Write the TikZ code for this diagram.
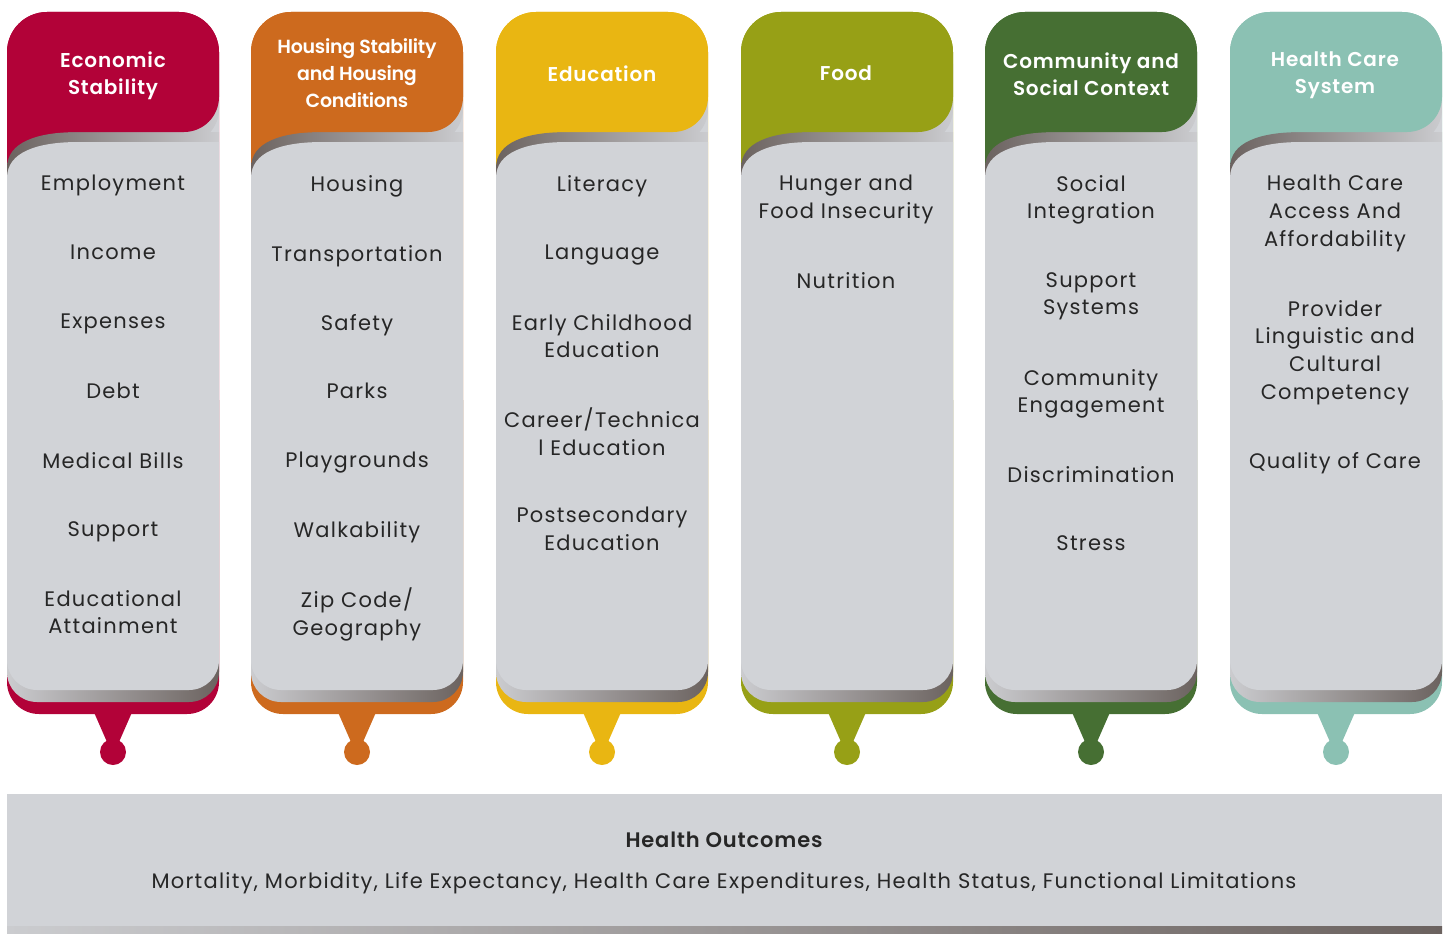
\documentclass[tikz,border=0pt]{standalone}
\usepackage{fontspec}
\setmainfont{Poppins}[LetterSpace=6]
\newfontfamily\headfont{Poppins SemiBold}[LetterSpace=4]

\definecolor{econ}{HTML}{B20238}
\definecolor{house}{HTML}{CD6A1E}
\definecolor{educ}{HTML}{E9B612}
\definecolor{food}{HTML}{97A016}
\definecolor{comm}{HTML}{466F33}
\definecolor{care}{HTML}{8BC1B3}
\definecolor{panel}{HTML}{D1D3D7}
\definecolor{shade}{HTML}{6B625F}
\definecolor{shadelight}{HTML}{CBCCCF}
\definecolor{txt}{HTML}{262626}

\tikzset{
  head/.style={anchor=north, align=center, text=white, inner sep=0pt,
    font=\fontsize{20}{27}\selectfont\headfont},
  item/.style={anchor=north, align=center, text=txt, inner sep=0pt,
    font=\fontsize{21}{27.7}\selectfont},
}

% one column: #1 left edge, #2 colour
\newcommand{\sdohcolumn}[2]{%
  \begin{scope}[shift={(#1,0)}]
    % coloured plate, tab and dot
    \fill[#2] (0,52) arc[start angle=180, end angle=270, radius=40] -- (172,12)
      arc[start angle=270, end angle=360, radius=40] -- (212,682)
      arc[start angle=0, end angle=90, radius=32] -- (32,714)
      arc[start angle=90, end angle=180, radius=32] -- cycle;
    \fill[#2] (86,710) -- (126,710) -- (112,742) -- (100,742) -- cycle;
    \fill[#2] (106,752) circle (13);
    % grey under the header corner
    \fill[panel] (140,80) rectangle (212,160);
    % shadow of the header corner
    \begin{scope}
      \clip (120,0) rectangle (212,200);
      \shade[left color=shade, right color=shadelight, shift={(0,12)}]
        (0,132) -- (0,52) arc[start angle=180, end angle=270, radius=40] -- (172,12)
        arc[start angle=270, end angle=360, radius=40] -- (212,97)
        arc[start angle=0, end angle=90, radius=35] -- cycle;
    \end{scope}
    % shadows of the grey body
    \shade[left color=shadelight, right color=shade] (0,400) -- (212,400) -- (212,672)
      arc[start angle=0, end angle=90, radius=30] -- (30,702)
      arc[start angle=90, end angle=180, radius=30] -- cycle;
    \shade[left color=shade, right color=shadelight] (0,168)
      .. controls (0,142) and (30,132) .. (72,132) -- (212,132) -- (212,300) -- (0,300) -- cycle;
    % grey body
    \fill[panel] (0,178) .. controls (0,152) and (30,142) .. (72,142) -- (212,142) -- (212,660)
      arc[start angle=0, end angle=90, radius=30] -- (30,690)
      arc[start angle=90, end angle=180, radius=30] -- cycle;
    % header
    \fill[#2] (0,132) -- (0,52) arc[start angle=180, end angle=270, radius=40] -- (172,12)
      arc[start angle=270, end angle=360, radius=40] -- (212,97)
      arc[start angle=0, end angle=90, radius=35] -- cycle;
  \end{scope}}

\begin{document}
\begin{tikzpicture}[x=1pt, y=-1pt]
    \useasboundingbox (0,0) rectangle (1448,934);

    % the six columns
    \sdohcolumn{7}{econ}
    \sdohcolumn{251}{house}
    \sdohcolumn{496}{educ}
    \sdohcolumn{741}{food}
    \sdohcolumn{985}{comm}
    \sdohcolumn{1230}{care}

    % headers
    \node[head] (econhead) at (113,51.5) {Economic\\Stability};
    \node[head, font=\fontsize{19}{27}\selectfont\headfont\addfontfeature{LetterSpace=-1.5}]
      (househead) at (357,38) {Housing Stability\\and Housing\\Conditions};
    \node[head] (educhead) at (602,65.5) {Education};
    \node[head] (foodhead) at (846,65.5) {Food};
    \node[head] (commhead) at (1091,52.5) {Community and\\Social Context};
    \node[head] (carehead) at (1335,51.5) {Health Care\\System};

    % Economic Stability
    \node[item] (econ1) at (113,175) {Employment};
    \node[item] (econ2) at (113,245) {Income};
    \node[item] (econ3) at (113,314) {Expenses};
    \node[item] (econ4) at (113,383) {Debt};
    \node[item] (econ5) at (113,452) {Medical Bills};
    \node[item] (econ6) at (113,521) {Support};
    \node[item] (econ7) at (113,590) {Educational\\Attainment};

    % Housing
    \node[item] (house1) at (357,175) {Housing};
    \node[item] (house2) at (357,245) {Transportation};
    \node[item] (house3) at (357,314) {Safety};
    \node[item] (house4) at (357,383) {Parks};
    \node[item] (house5) at (357,452) {Playgrounds};
    \node[item] (house6) at (357,521) {Walkability};
    \node[item] (house7) at (357,588) {Zip Code/\\Geography};

    % Education
    \node[item] (educ1) at (602,175) {Literacy};
    \node[item] (educ2) at (602,245) {Language};
    \node[item] (educ3) at (602,314) {Early Childhood\\Education};
    \node[item] (educ4) at (602,408) {Career/Technica\\l Education};
    \node[item] (educ5) at (602,507) {Postsecondary\\Education};

    % Food
    \node[item] (food1) at (846,175) {Hunger and\\Food Insecurity};
    \node[item] (food2) at (846,272) {Nutrition};

    % Community
    \node[item] (comm1) at (1091,175) {Social\\Integration};
    \node[item] (comm2) at (1091,272) {Support\\Systems};
    \node[item] (comm3) at (1091,369) {Community\\Engagement};
    \node[item] (comm4) at (1091,466) {Discrimination};
    \node[item] (comm5) at (1091,535) {Stress};

    % Health Care
    \node[item] (care1) at (1335,175) {Health Care\\Access And\\Affordability};
    \node[item] (care2) at (1335,300) {Provider\\Linguistic and\\Cultural\\Competency};
    \node[item] (care3) at (1335,452) {Quality of Care};

    % outcomes bar
    \fill[panel] (7,794) rectangle (1442,927);
    \shade[left color=shadelight, right color=shade] (7,926) rectangle (1442,934);
    \node[text=txt, font=\fontsize{21}{24}\selectfont\headfont, anchor=base] (outtitle) at (724,847) {Health Outcomes};
    \node[text=txt, font=\fontsize{21}{24}\selectfont, anchor=base] (outlist) at (724,888)
      {Mortality, Morbidity, Life Expectancy, Health Care Expenditures, Health Status, Functional Limitations};
\end{tikzpicture}
\end{document}
